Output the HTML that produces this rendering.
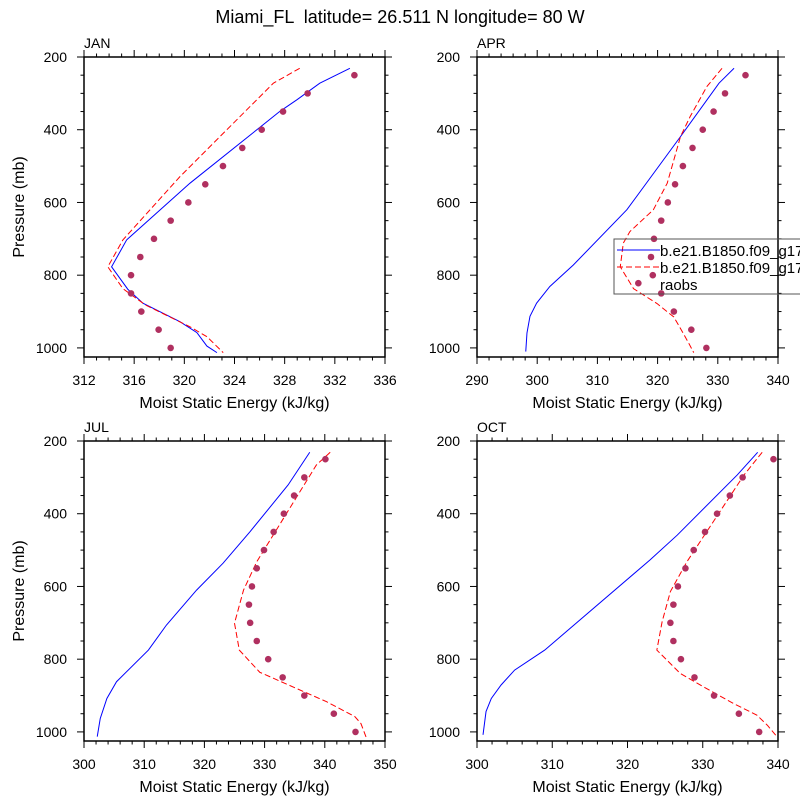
<!DOCTYPE html>
<html><head><meta charset="utf-8"><style>
body{margin:0;background:#fff}
svg{display:block;font-family:"Liberation Sans",Arial,sans-serif}
</style></head><body>
<svg id="chart" width="800" height="800" viewBox="0 0 800 800">
<text x="400" y="23" text-anchor="middle" font-size="18" style="white-space:pre">Miami_FL  latitude= 26.511 N longitude= 80 W</text>
</svg>
<script>
// ---- data ----
const obsP = [250,300,350,400,450,500,550,600,650,700,750,800,850,900,950,1000];
const aprObsP = [250,300,350,400,450,500,550,600,650,700,750,800,822,850,900,950,1000];
const janObs = [333.56,329.83,327.87,326.17,324.62,323.08,321.67,320.32,318.91,317.58,316.49,315.75,315.75,316.57,317.95,318.91];
const janBlueP = [231,272,317,350,547,703,777,839,877,928,958,995,1013];
const janBlue = [333.2,330.8,329.0,327.6,320.45,315.4,314.2,315.5,316.7,319.65,321.0,321.8,322.6];
const janRedP = [231,272,529,703,777,837,882,942,969,1013];
const janRed = [329.2,327.1,319.65,315.1,313.9,315.1,316.9,320.45,321.8,323.1];
const aprObs = [334.6,331.2,329.3,327.5,325.8,324.2,322.9,321.7,320.6,319.4,318.9,319.2,316.8,320.6,322.7,325.6,328.1];
const aprBlueP = [231,272,419,620,772,831,877,913,959,1010];
const aprBlue = [332.7,330.2,323.8,314.9,306.0,302.1,299.9,298.8,298.3,298.1];
const aprRedP = [231,281,364,419,547,620,680,712,777,837,878,915,961,988,1013];
const aprRed = [330.7,328.2,325.4,323.8,321.6,319.3,315.4,314.3,313.8,316.0,319.9,322.7,324.3,325.2,326.0];
const julObs = [340.1,336.6,334.9,333.2,331.5,329.9,328.7,327.9,327.4,327.6,328.7,330.6,333.0,336.6,341.5,345.1];
const julBlueP = [231,321,449,536,610,706,775,862,908,963,1013];
const julBlue = [337.5,333.9,327.6,323.1,318.7,313.7,310.7,305.4,303.8,302.7,302.2];
const julRedP = [231,266,532,610,701,775,836,917,958,977,1016];
const julRed = [340.9,338.6,328.7,326.5,325.0,325.8,329.2,340.3,345.0,346.0,346.9];
const octObs = [339.4,335.3,333.6,331.9,330.3,328.8,327.7,326.7,326.1,325.7,326.1,327.1,328.9,331.5,334.8,337.5];
const octBlueP = [231,293,459,527,775,830,871,908,944,1008];
const octBlue = [337.3,334.6,326.6,323.0,309.0,305.0,303.2,301.9,301.2,300.8];
const octRedP = [231,293,532,614,697,775,839,876,922,954,982,1009];
const octRed = [337.9,335.5,327.9,325.7,324.6,323.9,327.0,330.1,334.1,337.2,338.6,339.7];
const yTicks = [200,400,600,800,1000];

const NS = "http://www.w3.org/2000/svg";
const svg = document.getElementById('chart');
function el(tag, attrs, parent){const e=document.createElementNS(NS,tag);for(const k in attrs)e.setAttribute(k,attrs[k]);(parent||svg).appendChild(e);return e;}

const panels = [
 {name:'jan',label:'JAN',x0:84,y0:57,xmin:312,xmax:336,major:4,minor:1,obsP:obsP,obs:janObs,bP:janBlueP,b:janBlue,rP:janRedP,r:janRed,ylab:true},
 {name:'apr',label:'APR',x0:477,y0:57,xmin:290,xmax:340,major:10,minor:2,obsP:aprObsP,obs:aprObs,bP:aprBlueP,b:aprBlue,rP:aprRedP,r:aprRed,ylab:false},
 {name:'jul',label:'JUL',x0:84,y0:441,xmin:300,xmax:350,major:10,minor:2,obsP:obsP,obs:julObs,bP:julBlueP,b:julBlue,rP:julRedP,r:julRed,ylab:true},
 {name:'oct',label:'OCT',x0:477,y0:441,xmin:300,xmax:340,major:10,minor:2,obsP:obsP,obs:octObs,bP:octBlueP,b:octBlue,rP:octRedP,r:octRed,ylab:false}
];
const W=301,H=300,PMIN=200,PMAX=1025;

panels.forEach(p=>{
  const g=el('g',{});
  
  
  const sx=v=>p.x0+(v-p.xmin)/(p.xmax-p.xmin)*W;
  const sy=v=>p.y0+(v-PMIN)/(PMAX-PMIN)*H;
  const tg=el('g',{stroke:'#000','stroke-width':1},g);
  for(let v=p.xmin; v<=p.xmax+1e-9; v+=p.minor){
    const isMaj=Math.abs((v-p.xmin)/p.major-Math.round((v-p.xmin)/p.major))<1e-6;
    const L=isMaj?7:3.5, x=sx(v);
    el('line',{x1:x,x2:x,y1:p.y0,y2:p.y0-L},tg);
    el('line',{x1:x,x2:x,y1:p.y0+H,y2:p.y0+H+L},tg);
    if(isMaj){const t=el('text',{x:x,y:p.y0+H+28,'text-anchor':'middle','font-size':14,stroke:'none'},g);t.textContent=Math.round(v);
      
      }
  }
  for(let v=200; v<=1000; v+=50){
    const isMaj=v%200===0, L=isMaj?7:3.5, y=sy(v);
    el('line',{x1:p.x0,x2:p.x0-L,y1:y,y2:y},tg);
    el('line',{x1:p.x0+W,x2:p.x0+W+L,y1:y,y2:y},tg);
  }
  yTicks.forEach(v=>{const t=el('text',{x:p.x0-17,y:sy(v)+5,'text-anchor':'end','font-size':14},g);t.textContent=v;
    
    });
  const fr=el('rect',{x:p.x0,y:p.y0,width:W,height:H,fill:'none',stroke:'#000','stroke-width':1.5},g);
  
  
  const lab=el('text',{x:p.x0,y:p.y0-9,'font-size':14},g);lab.textContent=p.label;
  
  
  const xl=el('text',{x:p.x0+W/2,y:p.y0+H+51,'text-anchor':'middle','font-size':16},g);xl.textContent='Moist Static Energy (kJ/kg)';
  
  
  if(p.ylab){const cy=p.y0+H/2;const yl=el('text',{x:24,y:cy,'text-anchor':'middle','font-size':16,transform:`rotate(-90 24 ${cy})`},g);yl.textContent='Pressure (mb)';
    
    }
  const bl=el('polyline',{points:p.b.map((v,i)=>sx(v)+','+sy(p.bP[i])).join(' '),fill:'none',stroke:'#0000ff','stroke-width':1},g);
  
  
  const rl=el('polyline',{points:p.r.map((v,i)=>sx(v)+','+sy(p.rP[i])).join(' '),fill:'none',stroke:'#ff0000','stroke-width':1,'stroke-dasharray':'6 3'},g);
  
  
  p.obs.forEach((v,i)=>{const c=el('circle',{cx:sx(v),cy:sy(p.obsP[i]),r:3.3,fill:'#b03060'},g);
    
    });
});
// legend
const lg=el('g',{});


el('rect',{x:614,y:239,width:200,height:55,fill:'none',stroke:'#555','stroke-width':1},lg);
const e1=el('line',{x1:617,x2:660,y1:250,y2:250,stroke:'#0000ff','stroke-width':1},lg);


const e2=el('line',{x1:617,x2:660,y1:267,y2:267,stroke:'#ff0000','stroke-width':1,'stroke-dasharray':'6 3'},lg);


[['b.e21.B1850.f09_g17',256],['b.e21.B1850.f09_g17',273],['raobs',290]].forEach(([s,y])=>{const t=el('text',{x:660,y:y,'font-size':15},lg);t.textContent=s;
  
  });
</script>
</body></html>
